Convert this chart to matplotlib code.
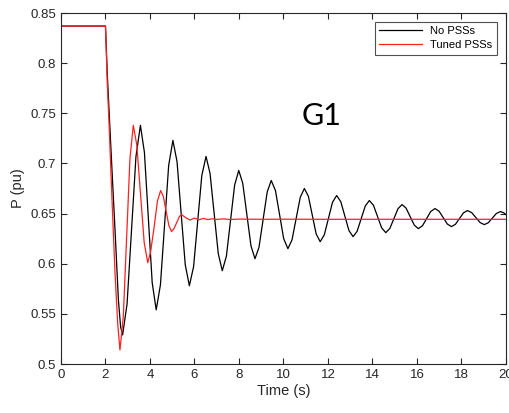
import matplotlib
matplotlib.use("Agg")
import matplotlib.pyplot as plt

# Generator G1 active power
# No PSSs (black)
t_nopss = [0.0, 2.0, 2.08, 2.16, 2.3, 2.43, 2.58, 2.68, 2.77,
           2.97, 3.17, 3.37, 3.57,
           3.75, 3.925, 4.10, 4.28,
           4.47, 4.655, 4.84, 5.03,
           5.215, 5.40, 5.585, 5.77,
           5.96, 6.145, 6.33, 6.52,
           6.70, 6.885, 7.07, 7.25,
           7.435, 7.62, 7.805, 7.99,
           8.17, 8.355, 8.54, 8.72,
           8.90, 9.085, 9.27, 9.45,
           9.64, 9.825, 10.01, 10.2,
           10.385, 10.57, 10.755, 10.94,
           11.12, 11.295, 11.47, 11.65,
           11.835, 12.02, 12.205, 12.39,
           12.575, 12.76, 12.945, 13.13,
           13.31, 13.495, 13.68, 13.86,
           14.045, 14.23, 14.415, 14.6,
           14.78, 14.965, 15.15, 15.33,
           15.51, 15.695, 15.88, 16.06,
           16.25, 16.435, 16.62, 16.81,
           16.995, 17.18, 17.365, 17.55,
           17.73, 17.91, 18.09, 18.27,
           18.46, 18.65, 18.84, 19.03,
           19.21, 19.39, 19.57, 19.75,
           19.9, 20.0]
p_nopss = [0.837, 0.837, 0.79, 0.753, 0.69, 0.633, 0.564, 0.537, 0.529,
           0.560, 0.6335, 0.707, 0.738,
           0.711, 0.646, 0.581, 0.554,
           0.579, 0.6385, 0.698, 0.723,
           0.702, 0.6505, 0.599, 0.578,
           0.597, 0.6425, 0.688, 0.707,
           0.690, 0.650, 0.610, 0.593,
           0.6076, 0.643, 0.6784, 0.693,
           0.6802, 0.649, 0.6178, 0.605,
           0.6164, 0.644, 0.6716, 0.683,
           0.673, 0.649, 0.625, 0.615,
           0.6238, 0.645, 0.6662, 0.675,
           0.6673, 0.6485, 0.6297, 0.622,
           0.6287, 0.645, 0.6613, 0.668,
           0.662, 0.6475, 0.633, 0.627,
           0.6323, 0.645, 0.6577, 0.663,
           0.6583, 0.647, 0.6357, 0.631,
           0.6351, 0.645, 0.6549, 0.659,
           0.6555, 0.647, 0.6385, 0.635,
           0.6379, 0.645, 0.6521, 0.655,
           0.6524, 0.646, 0.6396, 0.637,
           0.6393, 0.645, 0.6507, 0.653,
           0.651, 0.646, 0.641, 0.639,
           0.6409, 0.6455, 0.6501, 0.652,
           0.6508, 0.649]

# Tuned PSSs (red)
t_tuned = [0.0, 2.0, 2.08, 2.16, 2.3, 2.43, 2.55, 2.65,
           2.80, 2.95, 3.10, 3.25,
           3.41, 3.575, 3.74, 3.90,
           4.025, 4.19, 4.335, 4.48,
           4.60, 4.725, 4.85, 4.97,
           5.08, 5.2, 5.32, 5.42,
           5.6, 5.8, 6.0, 6.2, 6.4, 6.6, 6.8, 7.0, 7.3, 7.6,
           8.0, 9.0, 10.0, 12.0, 14.0, 16.0, 18.0, 20.0]
p_tuned = [0.837, 0.837, 0.78, 0.74, 0.66, 0.59, 0.54, 0.514,
           0.547, 0.626, 0.705, 0.738,
           0.718, 0.6695, 0.621, 0.601,
           0.6115, 0.637, 0.6625, 0.673,
           0.667, 0.6525, 0.638, 0.632,
           0.635, 0.641, 0.647, 0.649,
           0.646, 0.6435, 0.6455, 0.6438, 0.6452, 0.644, 0.6448, 0.6442, 0.6447, 0.6441,
           0.6445, 0.6443, 0.6444, 0.6443, 0.6443, 0.6443, 0.6443, 0.6443]

x_ticks = [0, 2, 4, 6, 8, 10, 12, 14, 16, 18, 20]
y_ticks = [0.5, 0.55, 0.6, 0.65, 0.7, 0.75, 0.8, 0.85]
y_tick_labels = ["0.5", "0.55", "0.6", "0.65", "0.7", "0.75", "0.8", "0.85"]

plt.rcParams['font.family'] = ['Liberation Sans', 'DejaVu Sans']

fig = plt.figure(figsize=(5.10, 4.13), dpi=100)
ax = fig.add_axes([0.1196, 0.1186, 0.8724, 0.8499])

ax.plot(t_nopss, p_nopss, color='black', lw=0.9, label='No PSSs')
ax.plot(t_tuned, p_tuned, color='#ff2020', lw=0.9, label='Tuned PSSs')

ax.set_xlim(0, 20)
ax.set_ylim(0.5, 0.85)
ax.set_xticks(x_ticks)
ax.set_yticks(y_ticks)
ax.set_yticklabels(y_tick_labels)
ax.tick_params(direction='in', top=True, right=True, length=4, width=0.8,
               colors='#262626', labelsize=9.5, labelcolor='#262626')
for s in ax.spines.values():
    s.set_color('#262626')
    s.set_linewidth(0.8)

ax.set_xlabel('Time (s)', fontsize=10.5, color='#262626', labelpad=2)
ax.set_ylabel('P (pu)', fontsize=10.5, color='#262626', labelpad=4)

leg = ax.legend(loc='upper right', fontsize=8, frameon=True, fancybox=False,
                edgecolor='#262626', handlelength=3.8, borderpad=0.4,
                labelspacing=0.35, borderaxespad=0.8)
leg.get_frame().set_linewidth(0.8)

ax.text(11.7, 0.747, 'G1', fontsize=22, family=['Lato', 'DejaVu Sans'],
        ha='center', va='center', color='black')

fig.savefig('out.png', dpi=100)
